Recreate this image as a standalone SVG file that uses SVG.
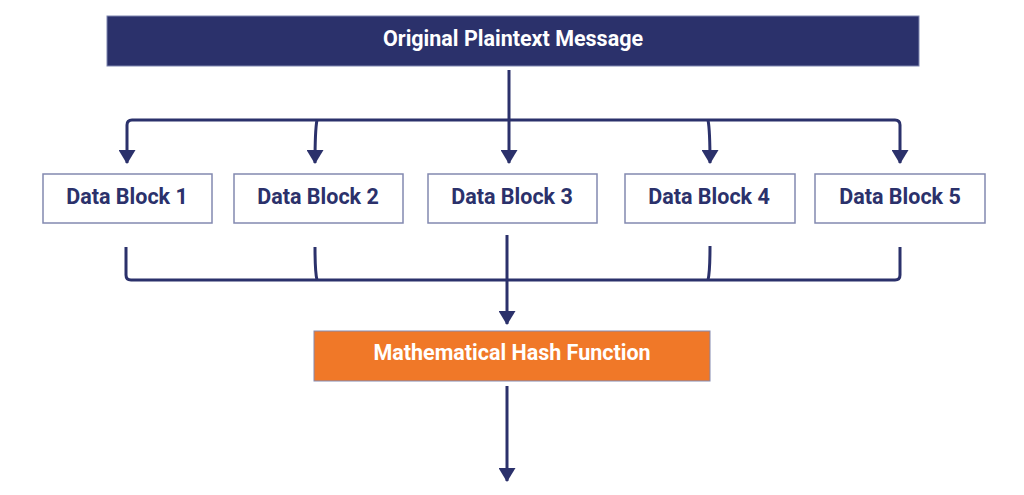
<svg xmlns="http://www.w3.org/2000/svg" width="1024" height="495" viewBox="0 0 1024 495">
<style>
.ln{fill:none;stroke:#2B316B;stroke-width:3;stroke-linejoin:round}
.box{fill:#ffffff;stroke:#8389B0;stroke-width:1.5}
.bt{font-family:Roboto,"Liberation Sans",sans-serif;font-weight:700;font-size:21.5px;fill:#2B316B;text-anchor:middle}
.wt{font-family:Roboto,"Liberation Sans",sans-serif;font-weight:700;font-size:21.5px;fill:#ffffff;text-anchor:middle}
</style>
<defs>
<marker id="ad" viewBox="0 0 17 14" refX="8.5" refY="13" markerWidth="17" markerHeight="14" markerUnits="userSpaceOnUse" orient="0">
<path d="M0,0 L17,0 L8.5,14 Z" fill="#2B316B"/>
</marker>
</defs>
<g id="message">
<rect x="107" y="16" width="812" height="50" fill="#2B316B" stroke="#7F86B0" stroke-width="1"/>
<text class="wt" x="513" y="46">Original Plaintext Message</text>
</g>
<g id="block1"><rect class="box" x="43" y="174" width="169" height="49"/><text class="bt" x="127" y="204">Data Block 1</text></g>
<g id="block2"><rect class="box" x="234" y="174" width="169" height="49"/><text class="bt" x="318" y="204">Data Block 2</text></g>
<g id="block3"><rect class="box" x="428" y="174" width="169" height="49"/><text class="bt" x="512" y="204">Data Block 3</text></g>
<g id="block4"><rect class="box" x="625" y="174" width="170" height="49"/><text class="bt" x="709" y="204">Data Block 4</text></g>
<g id="block5"><rect class="box" x="815" y="174" width="170" height="49"/><text class="bt" x="900" y="204">Data Block 5</text></g>
<g id="hash">
<rect x="314" y="331" width="396" height="50" fill="#F07828" stroke="#8389B0" stroke-width="1"/>
<text class="wt" x="512" y="360">Mathematical Hash Function</text>
</g>
<g id="connectors">
<path class="ln" d="M509,70 L509,163" marker-end="url(#ad)"/>
<path class="ln" d="M127,160 L127,125 Q127,120 132,120 L895,120 Q900,120 900,125 L900,160"/>
<path class="ln" d="M127,160 L127,163" marker-end="url(#ad)"/>
<path class="ln" d="M900,160 L900,163" marker-end="url(#ad)"/>
<path class="ln" d="M317,120 Q315,130 315,163" marker-end="url(#ad)"/>
<path class="ln" d="M708,120 Q710,130 710,163" marker-end="url(#ad)"/>
<path class="ln" d="M126,247 L126,275 Q126,280 131,280 L895,280 Q900,280 900,275 L900,247"/>
<path class="ln" d="M315,247 Q315,272 317,280"/>
<path class="ln" d="M710,246 Q710,272 708,280"/>
<path class="ln" d="M507,235 L507,324" marker-end="url(#ad)"/>
<path class="ln" d="M507,386 L507,481" marker-end="url(#ad)"/>
</g>
</svg>
